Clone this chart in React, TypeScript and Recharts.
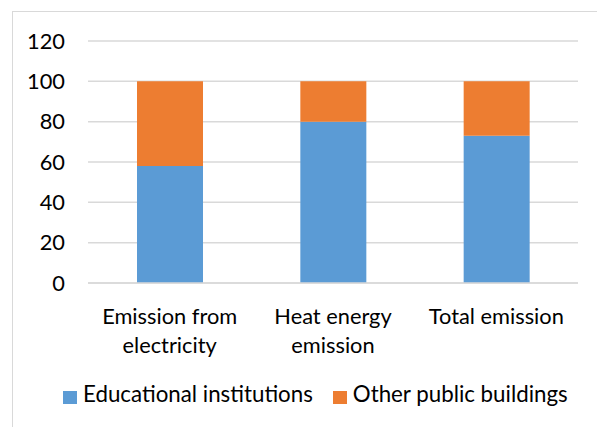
import React from "react";
import { BarChart, Bar, XAxis, YAxis, CartesianGrid } from "recharts";

const categories = ["Emission from electricity", "Heat energy emission", "Total emission"];
const categoryLines = [["Emission from", "electricity"], ["Heat energy", "emission"], ["Total emission"]];
const educational = [58, 80, 73];
const otherPublic = [42, 20, 27];
const yTicks = [0, 20, 40, 60, 80, 100, 120];
const seriesNames = ["Educational institutions", "Other public buildings"];
const colors = ["#5B9BD5", "#ED7D31"];

const data = categories.map((c, i) => ({
  name: c,
  edu: educational[i],
  other: otherPublic[i],
}));

const FONT = "Lato, 'Open Sans', sans-serif";
const FS = 21.8;
const LFS = 22.3;

const XTick = (props: any) => {
  const { x, y, payload } = props;
  const idx = categories.indexOf(payload.value);
  const lines = idx >= 0 ? categoryLines[idx] : [payload.value];
  return (
    <text x={x} y={y} textAnchor="middle" fill="#000" fontSize={FS} fontFamily={FONT}>
      {lines.map((l, i) => (
        <tspan key={i} x={x} dy={i === 0 ? 39 : 29}>
          {l}
        </tspan>
      ))}
    </text>
  );
};

export default function App() {
  return (
    <div style={{ position: "absolute", left: 0, top: 0, width: 597, height: 427, background: "#fff", overflow: "hidden" }}>
      <div
        style={{
          position: "absolute",
          left: 12,
          top: 11,
          width: 600,
          height: 430,
          border: "1px solid #d9d9d9",
          boxSizing: "border-box",
        }}
      />
      <div style={{ position: "absolute", left: 0, top: 0 }}>
        <BarChart
          width={597}
          height={427}
          data={data}
          margin={{ top: 41, right: 19, left: 0, bottom: 114 }}
        >
          <CartesianGrid vertical={false} stroke="#d9d9d9" strokeWidth={1.5} />
          <XAxis
            dataKey="name"
            tickLine={false}
            axisLine={{ stroke: "#d9d9d9", strokeWidth: 1.5 }}
            tick={<XTick />}
            interval={0}
            tickSize={0}
          />
          <YAxis
            width={88}
            domain={[0, 120]}
            ticks={yTicks}
            tickLine={false}
            axisLine={false}
            tickSize={0}
            tickMargin={23}
            tick={{ fill: "#000", fontSize: FS, fontFamily: FONT }}
          />
          <Bar dataKey="edu" stackId="a" fill={colors[0]} barSize={66} isAnimationActive={false} />
          <Bar dataKey="other" stackId="a" fill={colors[1]} barSize={66} isAnimationActive={false} />
        </BarChart>
      </div>
      <div
        style={{
          position: "absolute",
          left: 63,
          top: 381,
          display: "flex",
          alignItems: "flex-start",
          fontFamily: FONT,
          fontSize: LFS,
          lineHeight: "26px",
          color: "#000",
          whiteSpace: "nowrap",
        }}
      >
        {seriesNames.map((n, i) => (
          <div key={n} style={{ display: "flex", alignItems: "flex-start", marginRight: i === 0 ? 20 : 0 }}>
            <div style={{ width: 14, height: 13, background: colors[i], marginRight: 6, marginTop: 10 }} />
            <span>{n}</span>
          </div>
        ))}
      </div>
    </div>
  );
}
